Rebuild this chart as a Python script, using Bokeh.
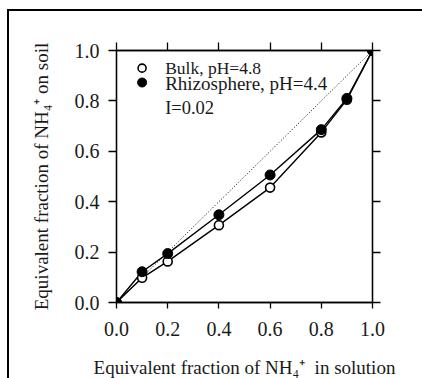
from bokeh.plotting import figure
from bokeh.models import LinearAxis, FixedTicker, Range1d, PrintfTickFormatter, CustomJSTickFormatter, Column
from bokeh.core.properties import value
from bokeh.embed import file_html
from bokeh.resources import INLINE

# data
x_bulk = [0.0, 0.1, 0.2, 0.4, 0.6, 0.8, 0.9, 1.0]
y_bulk = [0.0, 0.098, 0.163, 0.307, 0.456, 0.675, 0.805, 1.0]
x_rhizo = [0.0, 0.1, 0.2, 0.4, 0.6, 0.8, 0.9, 1.0]
y_rhizo = [0.0, 0.122, 0.194, 0.348, 0.506, 0.686, 0.81, 1.0]
diag = [0.0, 1.0]
ticks = [0.0, 0.2, 0.4, 0.6, 0.8, 1.0]
legend_labels = ["Bulk, pH=4.8", "Rhizosphere, pH=4.4", "I=0.02"]

FONT = "Liberation Serif"

p = figure(width=416, height=380, output_backend="svg", toolbar_location=None,
           x_range=Range1d(0, 1), y_range=Range1d(0, 1),
           min_border_left=107, min_border_right=53, min_border_top=39, min_border_bottom=89,
           x_axis_label="Equivalent fraction of NH\u2084\u207a\u00a0\u00a0in solution",
           y_axis_label="Equivalent fraction of NH\u2084\u207a on soil")
p.grid.visible = False
p.outline_line_color = "black"
p.outline_line_width = 1.3
p.background_fill_color = "white"
p.border_fill_color = "white"

for ax in (p.xaxis[0], p.yaxis[0]):
    ax.ticker = FixedTicker(ticks=ticks)
    ax.formatter = PrintfTickFormatter(format="%.1f")
    ax.minor_tick_line_color = None
    ax.major_tick_in = 0
    ax.major_tick_out = 8
    ax.major_tick_line_width = 1.3
    ax.axis_line_width = 1.3
    ax.major_label_text_font = FONT
    ax.major_label_text_font_size = "20px"
    ax.major_label_text_color = "#1a1a1a"
    ax.axis_label_text_font = FONT
    ax.axis_label_text_font_size = "19px"
    ax.axis_label_text_font_style = "normal"
    ax.axis_label_text_color = "#1a1a1a"
p.xaxis[0].major_label_standoff = 13
p.xaxis[0].major_tick_out = 6
p.xaxis[0].axis_label_standoff = 18
p.yaxis[0].major_label_standoff = 9
p.yaxis[0].axis_label_standoff = 20

for loc in ("above", "right"):
    a = LinearAxis(ticker=FixedTicker(ticks=ticks),
                   formatter=CustomJSTickFormatter(code="return ''"),
                   minor_tick_line_color=None, major_tick_in=0, major_tick_out=8,
                   major_tick_line_width=1.3, axis_line_width=1.3)
    p.add_layout(a, loc)

# 1:1 line
p.line(diag, diag, line_color="black", line_dash="1 2", line_width=1)

# curves
p.line(x_bulk, y_bulk, line_color="black", line_width=1.4)
p.line(x_rhizo, y_rhizo, line_color="black", line_width=1.4)
p.scatter(x_bulk, y_bulk, size=9, marker="circle", fill_color="white", line_color="black", line_width=1.6)
p.scatter(x_rhizo, y_rhizo, size=10, marker="circle", fill_color="black", line_color="black")

# legend (layout constants)
lx, tx = 0.10, 0.19
p.scatter([lx], [0.93], size=8, marker="circle", fill_color="white", line_color="black", line_width=1.6)
p.scatter([lx], [0.873], size=9, marker="circle", fill_color="black", line_color="black")
p.text([tx], [0.93], text=[legend_labels[0]], text_font=value(FONT), text_font_size="17.5px",
       text_baseline="middle", text_color="#1a1a1a")
p.text([tx], [0.871], text=[legend_labels[1]], text_font=value(FONT), text_font_size="19px",
       text_baseline="middle", text_color="#1a1a1a")
p.text([tx], [0.77], text=[legend_labels[2]], text_font=value(FONT), text_font_size="18.5px",
       text_baseline="middle", text_color="#1a1a1a")

# outer frame around the figure
layout = Column(p, margin=(9, 0, 0, 7),
                styles={"border": "2px solid black", "box-sizing": "content-box"})

open("out.html", "w").write(file_html(layout, INLINE))
